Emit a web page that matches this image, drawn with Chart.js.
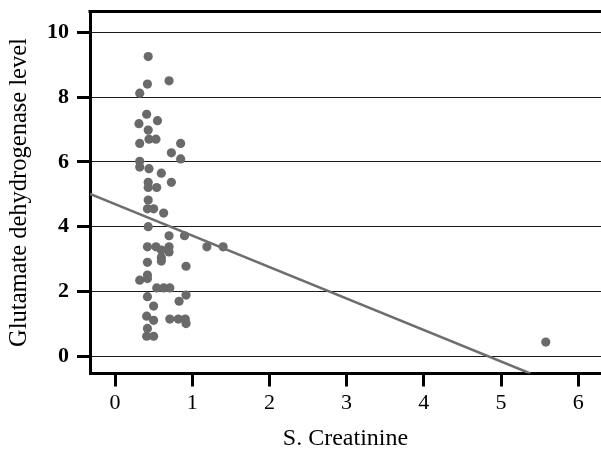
<!DOCTYPE html>
<html>
<head>
<meta charset="utf-8">
<script src="https://cdn.jsdelivr.net/npm/chart.js@4/dist/chart.umd.min.js"></script>
<style>
  html, body { margin: 0; padding: 0; background: #ffffff; }
  #wrap { width: 601px; height: 452px; }
</style>
</head>
<body>
<div id="wrap"><canvas id="c" width="601" height="452"></canvas></div>
<script>
// S. Creatinine values (x) and Glutamate dehydrogenase level (y)
const creatinine = [
  0.43, 0.42, 0.70, 0.32, 0.41, 0.31, 0.55, 0.43, 0.44, 0.53,
  0.32, 0.85, 0.73, 0.85, 0.32, 0.32, 0.44, 0.60, 0.43, 0.73,
  0.43, 0.54, 0.43, 0.42, 0.50, 0.63, 0.43, 0.70, 0.90, 1.19,
  1.40, 0.42, 0.53, 0.70, 0.60, 0.70, 0.60, 0.60, 0.42, 0.92,
  0.42, 0.42, 0.32, 0.54, 0.63, 0.71, 0.42, 0.92, 0.83, 0.50,
  0.41, 0.50, 0.71, 0.82, 0.91, 0.92, 0.42, 0.41, 0.50, 5.58
];
const gdhLevel = [
  9.25, 8.40, 8.50, 8.12, 7.47, 7.18, 7.27, 6.98, 6.70, 6.70,
  6.57, 6.57, 6.28, 6.09, 6.02, 5.84, 5.79, 5.65, 5.37, 5.37,
  5.21, 5.21, 4.82, 4.55, 4.55, 4.42, 4.00, 3.72, 3.72, 3.38,
  3.38, 3.38, 3.38, 3.38, 3.28, 3.22, 3.05, 2.94, 2.90, 2.78,
  2.51, 2.40, 2.35, 2.11, 2.11, 2.11, 1.84, 1.89, 1.70, 1.55,
  1.24, 1.11, 1.15, 1.15, 1.15, 1.01, 0.86, 0.62, 0.62, 0.44
];
// Fitted regression line end points (x, y)
const fitX = [-0.324, 5.38];
const fitY = [5.01, -0.53];
// Tick labels
const xTicks = [0, 1, 2, 3, 4, 5, 6];
const yTicks = [0, 2, 4, 6, 8, 10];

const scatterData = creatinine.map((x, i) => ({ x: x, y: gdhLevel[i] }));
const fitData = fitX.map((x, i) => ({ x: x, y: fitY[i] }));

const serif = '"Liberation Serif", "Times New Roman", serif';

const frame = {
  id: 'frame',
  afterDraw(chart) {
    const { ctx, chartArea } = chart;
    ctx.save();
    ctx.strokeStyle = '#000';
    ctx.lineWidth = 3;
    ctx.beginPath();
    ctx.moveTo(chartArea.left - 1.5, chartArea.top);
    ctx.lineTo(chart.width, chartArea.top);
    ctx.stroke();
    ctx.restore();
  }
};

new Chart(document.getElementById('c'), {
  type: 'scatter',
  data: {
    datasets: [
      {
        type: 'line',
        data: fitData,
        borderColor: '#6e6e6e',
        borderWidth: 2.5,
        pointRadius: 0,
        fill: false,
        order: 1
      },
      {
        data: scatterData,
        backgroundColor: '#6a6a6a',
        borderColor: '#6a6a6a',
        borderWidth: 0,
        pointRadius: 4.6,
        order: 2
      }
    ]
  },
  options: {
    responsive: false,
    animation: false,
    events: [],
    layout: { autoPadding: false, padding: { top: 11.5, right: 0, left: 0, bottom: 0 } },
    plugins: { legend: { display: false }, tooltip: { enabled: false } },
    scales: {
      x: {
        type: 'linear',
        min: -0.324,
        max: 6.295,
        afterBuildTicks(scale) { scale.ticks = xTicks.map(v => ({ value: v })); },
        afterFit(scale) {
          scale.height = 78.5;
          scale.paddingLeft = 0; scale.paddingRight = 0;
          scale.paddingTop = 0; scale.paddingBottom = 0;
        },
        grid: {
          drawOnChartArea: false,
          drawTicks: true,
          tickLength: 13,
          tickWidth: 3,
          tickColor: '#000'
        },
        border: { display: true, color: '#000', width: 3 },
        ticks: {
          color: '#000',
          padding: 4,
          font: { family: serif, size: 22 },
          maxRotation: 0
        },
        title: {
          display: true,
          text: 'S. Creatinine',
          color: '#000',
          font: { family: serif, size: 24, lineHeight: 1.1 },
          padding: { top: 0, bottom: 0 }
        }
      },
      y: {
        type: 'linear',
        min: -0.53,
        max: 10.64,
        afterBuildTicks(scale) { scale.ticks = yTicks.map(v => ({ value: v })); },
        afterFit(scale) {
          scale.width = 90;
          scale.paddingTop = 0; scale.paddingBottom = 0;
          scale.paddingLeft = 0; scale.paddingRight = 0;
        },
        grid: {
          drawOnChartArea: true,
          color: '#1a1a1a',
          lineWidth: 1,
          drawTicks: true,
          tickLength: 13,
          tickWidth: 3,
          tickColor: '#000'
        },
        border: { display: true, color: '#000', width: 3 },
        ticks: {
          color: '#000',
          padding: 8,
          font: { family: serif, size: 22, weight: 'bold' }
        },
        title: {
          display: true,
          text: 'Glutamate dehydrogenase level',
          color: '#000',
          font: { family: serif, size: 24.5, lineHeight: 1.1 },
          padding: { top: 6, bottom: 0 }
        }
      }
    }
  },
  plugins: [frame]
});
</script>
</body>
</html>
